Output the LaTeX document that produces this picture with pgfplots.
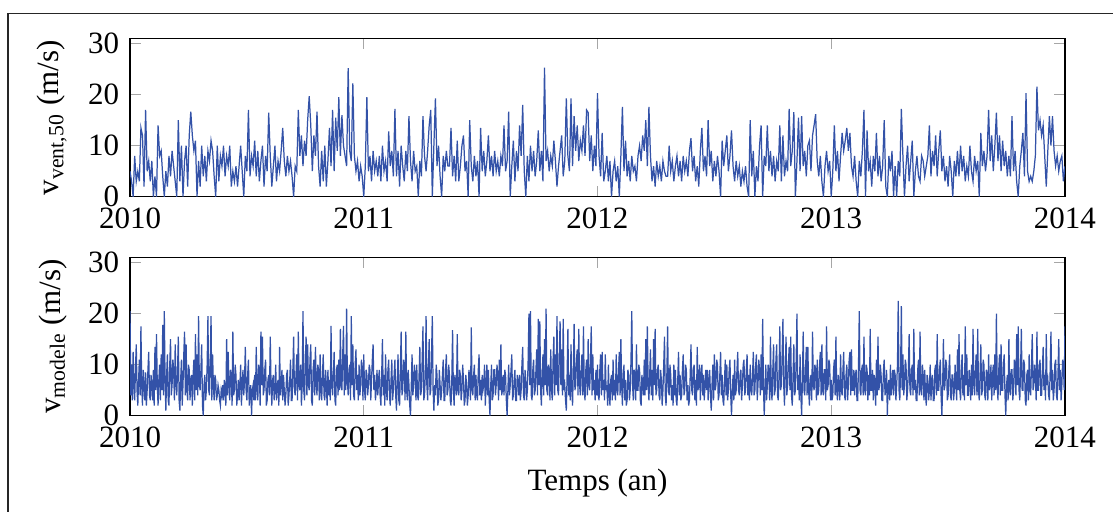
\documentclass[border=0pt]{standalone}
\usepackage{fontspec}
\setmainfont{Liberation Serif}
\usepackage{pgfplots}
\pgfplotsset{compat=1.18}
\definecolor{serie}{RGB}{51,82,168}

% two stacked panels, values plotted against their index (index range = 4 years)
\pgfplotsset{panel/.style={
  scale only axis, width=301.6pt, height=51pt, anchor=south west,
  xmin=0, ymin=0, ymax=31,
  xticklabels={2010,2011,2012,2013,2014},
  ytick={0,10,20,30},
  /pgf/number format/assume math mode=true,
  tick style={black!35}, major tick length=3.5pt,
}}

\begin{document}
\begin{tikzpicture}
\useasboundingbox (0pt,0pt) rectangle (359.03pt,165.16pt);
\draw[black!85,line width=0.4pt] (2.58pt,-20pt) -- (2.58pt,160.8pt) -- (380pt,160.8pt);

\begin{axis}[panel, at={(41.94pt,101.7pt)}, xmax=600, xtick={0,150,300,450,600},
  ylabel={v\textsubscript{vent,50} (m/s)}]
\addplot[color=serie, mark=none, line width=0.4pt] table[row sep=\\, header=false, x expr=\coordindex, y index=0] {
5\\3\\0\\8\\3\\5\\3\\13.5\\12\\2\\
17\\5\\7\\3\\7\\0\\4\\0\\14\\8\\
9\\4\\0\\5\\2\\8\\4\\9\\6\\3\\
0\\15\\3\\10\\0\\7\\10\\2\\12\\16.7\\
12\\9\\11\\0\\7\\2\\10\\4\\8\\3\\
9\\7\\11\\9\\4\\0\\10\\3\\8\\6\\
10\\4\\8\\6\\10\\2\\5\\3\\6\\2\\
6\\10\\5\\0\\8\\5\\17\\4\\8\\6\\
11\\4\\9\\3\\7\\10\\2\\8\\5\\16.5\\
8\\2\\6\\10\\3\\7\\5\\9\\13.5\\7\\
4\\8\\5\\7\\4\\0\\6\\5\\17\\8\\
12\\6\\11\\8\\15\\19.7\\14\\5\\12\\8\\
16.7\\6\\2\\9\\3\\10\\2\\7\\13.5\\6\\
17\\5\\15.5\\9\\19.5\\8\\16\\10\\8\\6\\
25.2\\9\\7\\22.2\\8\\5\\7\\3\\6\\4\\
0\\6\\19.5\\5\\8\\3\\9\\5\\7\\4\\
8\\3\\10\\5\\7\\3\\12.8\\6\\9\\4\\
17.2\\4\\9\\2\\10\\6\\3\\9\\5\\15.8\\
7\\3\\9\\5\\6\\0\\7\\4\\15.8\\8\\
5\\9\\14\\17\\0\\10\\19.3\\6\\10\\4\\
0\\8\\5\\9\\6\\6\\13.5\\4\\8\\3\\
11\\3\\6\\10\\12\\5\\7\\0\\15\\6\\
3\\8\\4\\7\\0\\13.5\\5\\9\\4\\7\\
12\\5\\8\\4\\9\\5\\7\\4\\8\\6\\
14\\5\\7\\16.7\\0\\6\\11\\3\\9\\5\\
14\\8\\18\\5\\0\\8\\3\\10\\5\\9\\
4\\7\\13\\5\\9\\3\\25.3\\7\\9\\5\\
8\\6\\11\\7\\2\\6\\9\\12\\4\\7\\
19.3\\8\\5\\19.3\\6\\15.8\\9\\14\\7\\11\\
9\\14\\8\\17\\16.5\\7\\12\\5\\10\\6\\
20.3\\8\\4\\12.5\\3\\5\\8\\3\\7\\0\\
5\\7\\3\\6\\0\\8\\17.6\\5\\11\\4\\
7\\3\\8\\5\\6\\3\\8\\10\\7\\12\\
9\\15\\6\\17.6\\8\\3\\6\\2\\7\\4\\
6\\3\\7\\5\\4\\4\\10\\5\\7\\3\\
6\\8\\4\\7\\3\\8\\5\\7\\4\\9\\
11.5\\5\\8\\3\\6\\2\\9\\13.5\\5\\8\\
4\\15\\6\\9\\3\\7\\4\\8\\5\\0\\
11\\6\\9\\12\\5\\8\\13\\6\\3\\7\\
4\\6\\2\\5\\3\\6\\2\\0\\15\\4\\
9\\0\\6\\3\\10\\14\\0\\8\\6\\14\\
5\\9\\4\\8\\3\\7\\5\\14\\3\\12\\
4\\7\\5\\17.2\\6\\9\\16.6\\0\\7\\15.5\\
5\\15.8\\6\\9\\4\\10\\11\\5\\12\\14\\
16.2\\7\\4\\8\\3\\0\\6\\9\\5\\7\\
0\\5\\14\\5\\9\\3\\8\\12.5\\9\\11\\
13.5\\9\\12.5\\6\\4\\8\\3\\0\\7\\4\\
9\\17\\0\\13\\5\\7\\2\\8\\5\\12.5\\
4\\8\\3\\6\\15\\2\\0\\8\\5\\9\\
0\\6\\0\\7\\4\\17.2\\8\\0\\6\\10\\
3\\7\\11\\0\\5\\8\\4\\3\\8\\7\\
4\\6\\8\\14\\4\\9\\6\\12\\4\\9\\
13\\5\\8\\3\\6\\2\\8\\5\\0\\7\\
4\\9\\4\\10\\5\\8\\3\\6\\4\\10\\
5\\3\\8\\5\\7\\0\\12.5\\6\\9\\5\\
8\\17\\7\\12\\5\\10\\16.5\\7\\12\\5\\
11\\6\\9\\4\\8\\4\\15.8\\5\\9\\3\\
0\\6\\9\\12.5\\4\\20.3\\5\\3\\4\\3\\
5\\8\\21.6\\13\\15\\12\\14\\8\\2\\9\\
15.8\\10\\15.8\\9\\6\\8\\5\\7\\8\\3\\
6\\
};
\end{axis}

\begin{axis}[panel, at={(41.94pt,31.06pt)}, xmax=1200, xtick={0,300,600,900,1200},
  ylabel={v\textsubscript{modele} (m/s)}, xlabel={Temps (an)}]
\addplot[color=serie, mark=none, line width=0.4pt] table[row sep=\\, header=false, x expr=\coordindex, y index=0] {
20.5\\4\\10\\3\\12.5\\6\\3\\9\\14\\5\\2\\7\\11\\4\\17.5\\6\\2\\9\\6\\3\\
8.5\\2\\5\\9\\12.5\\4\\3\\8\\6\\3\\9\\2\\13.5\\5\\16\\6\\2\\7\\10\\3\\
12\\5\\17.8\\4\\20.5\\7\\1\\8\\12\\3\\2\\10\\15\\4\\6\\11\\9\\3\\14\\6\\
4\\9\\15.5\\3\\1\\7\\11\\2\\6\\12\\16.5\\4\\14\\5\\3\\10\\9\\3\\7\\8\\
2\\8\\11\\3\\16\\5\\12\\4\\19.5\\6\\5\\9\\14\\2\\0\\6\\8\\3\\5\\10\\
19.5\\5\\4\\11\\19.5\\3\\12\\6\\3\\8\\7\\3\\4\\6\\5\\3\\2\\5\\4\\6\\
3\\7\\5\\2\\15\\4\\12.5\\6\\3\\9\\8\\2\\16.5\\4\\5\\10\\8\\2\\4\\7\\
3\\6\\10\\2\\6\\9\\4\\7\\13.5\\5\\3\\8\\11\\2\\4\\6\\0\\5\\6\\3\\
8\\3\\13.5\\5\\3\\10\\9\\2\\16.5\\6\\15.5\\4\\5\\9\\11\\2\\3\\7\\8\\4\\
15.5\\6\\2\\7\\8\\3\\5\\10\\3\\6\\7\\2\\13.5\\4\\6\\9\\3\\8\\5\\2\\
4\\8\\9\\2\\4\\7\\11\\3\\3\\9\\15.5\\5\\4\\8\\12\\3\\16.5\\6\\5\\10\\
2\\6\\20.5\\5\\3\\10\\15.5\\4\\14\\6\\5\\11\\14\\3\\2\\9\\11\\4\\13.5\\6\\
4\\10\\9\\3\\12\\5\\3\\8\\12\\4\\3\\9\\6\\2\\9\\4\\7\\3\\17.6\\6\\
4\\8\\12.5\\3\\2\\9\\10\\4\\11\\5\\17\\6\\5\\12\\17.6\\4\\12\\5\\21\\7\\
4\\9\\10\\3\\19.5\\6\\14\\4\\3\\10\\13\\5\\8\\3\\10\\4\\6\\11\\9\\3\\
12\\5\\3\\9\\8\\4\\6\\10\\9\\3\\7\\11\\14\\5\\8\\3\\5\\9\\4\\7\\
9\\4\\2\\8\\15\\4\\8\\2\\12\\5\\3\\9\\11\\4\\2\\7\\11\\3\\5\\8\\
11\\4\\1\\7\\12\\3\\2\\9\\16.5\\4\\5\\11\\10\\3\\16.5\\5\\3\\9\\6\\2\\
0\\6\\12\\4\\6\\10\\8\\3\\10\\4\\3\\8\\13.5\\4\\5\\11\\17.5\\3\\4\\8\\
19.5\\6\\3\\10\\15\\4\\5\\12\\19.5\\5\\1\\6\\4\\10\\8\\2\\3\\9\\6\\3\\
5\\8\\11\\3\\3\\9\\12\\4\\5\\10\\8\\3\\2\\7\\16.8\\5\\2\\8\\6\\4\\
16\\5\\4\\9\\8\\3\\5\\10\\7\\2\\3\\8\\6\\2\\4\\9\\7\\3\\17.3\\5\\
4\\8\\10\\3\\8\\4\\3\\9\\12\\4\\7\\3\\8\\5\\6\\10\\2\\6\\10\\4\\
9\\3\\0\\6\\10\\3\\4\\9\\9\\4\\6\\10\\8\\3\\11\\5\\14\\4\\5\\8\\
4\\9\\8\\3\\0\\5\\10\\4\\6\\9\\12\\3\\4\\7\\9\\3\\3\\8\\7\\4\\
8\\3\\5\\10\\13.5\\4\\3\\9\\7\\3\\5\\11\\20\\6\\20.5\\4\\3\\9\\11\\4\\
5\\9\\13\\4\\19\\6\\18.5\\5\\2\\8\\12\\4\\15\\6\\21\\5\\4\\10\\9\\3\\
13\\5\\3\\11\\15.5\\4\\12\\6\\19.5\\5\\4\\12\\18.5\\6\\13\\4\\19\\5\\6\\3\\
1\\8\\17\\4\\8\\3\\14\\5\\2\\9\\18\\5\\6\\11\\13\\4\\17\\6\\4\\9\\
12\\4\\17.5\\5\\3\\9\\11\\4\\15\\6\\5\\11\\17.5\\4\\12\\5\\6\\3\\9\\4\\
10\\4\\3\\9\\12\\4\\12.5\\5\\7\\3\\12\\5\\6\\2\\10\\4\\2\\7\\8\\3\\
11\\4\\7\\3\\12\\5\\4\\9\\12.5\\4\\15\\6\\2\\8\\10\\3\\7\\2\\3\\9\\
8\\3\\5\\11\\20.5\\6\\3\\9\\8\\3\\14\\5\\5\\10\\9\\3\\2\\8\\6\\4\\
11\\4\\15\\5\\17.5\\6\\3\\8\\13\\4\\9\\3\\15\\6\\17\\4\\5\\9\\10\\4\\
3\\9\\7\\2\\5\\10\\15.5\\4\\2\\8\\17.5\\5\\4\\10\\8\\3\\6\\2\\10\\4\\
9\\3\\2\\7\\12.5\\4\\8\\3\\4\\9\\12\\4\\5\\10\\9\\3\\6\\2\\3\\8\\
14\\5\\4\\9\\10\\3\\7\\2\\13.5\\5\\6\\10\\3\\8\\10\\4\\8\\3\\6\\9\\
5\\9\\3\\7\\9\\4\\1\\6\\10\\3\\12\\5\\6\\11\\10\\3\\4\\8\\12.5\\4\\
8\\3\\2\\7\\11\\4\\10\\3\\5\\9\\11\\4\\0\\5\\8\\3\\11\\4\\5\\9\\
12.5\\5\\4\\8\\9\\3\\6\\10\\11\\4\\5\\9\\12\\4\\8\\3\\10\\5\\4\\8\\
12.5\\4\\5\\10\\12\\3\\6\\11\\9\\4\\12\\5\\19\\6\\0\\5\\10\\3\\6\\10\\
8\\3\\15.5\\5\\3\\9\\14\\4\\5\\11\\14\\4\\3\\8\\17.5\\5\\6\\12\\19\\6\\
2\\9\\15.5\\4\\6\\10\\13.5\\5\\15.5\\4\\2\\8\\14\\4\\5\\11\\20\\5\\8\\3\\
12\\4\\0\\7\\16.5\\5\\4\\9\\13.5\\4\\13.5\\5\\2\\7\\8\\3\\16.5\\6\\5\\10\\
9\\3\\11\\4\\5\\10\\12.5\\4\\14\\5\\4\\9\\9\\3\\17.5\\5\\6\\11\\10\\3\\
7\\3\\4\\9\\11\\4\\15.5\\5\\3\\8\\6\\3\\12\\5\\4\\9\\12.5\\4\\3\\8\\
10\\3\\6\\11\\12.5\\4\\13\\5\\5\\9\\4\\8\\9\\3\\3\\10\\20.5\\5\\4\\9\\
10\\4\\15.5\\5\\4\\10\\9\\3\\8\\4\\17\\5\\5\\9\\3\\8\\7\\2\\11\\4\\
15.5\\5\\6\\10\\8\\3\\3\\9\\11\\4\\5\\9\\0\\6\\7\\3\\10\\4\\6\\9\\
4\\9\\8\\3\\6\\10\\22.5\\5\\3\\9\\21.5\\5\\12\\4\\6\\11\\10\\3\\5\\9\\
16\\5\\4\\9\\10\\4\\17\\5\\7\\3\\3\\9\\11\\4\\16.5\\5\\4\\10\\8\\3\\
9\\4\\2\\8\\7\\3\\5\\10\\3\\7\\8\\3\\3\\9\\10\\4\\16\\5\\5\\9\\
11\\4\\0\\6\\15\\5\\6\\11\\10\\3\\4\\9\\12\\4\\3\\8\\8\\3\\5\\10\\
6\\3\\13\\5\\16\\5\\3\\9\\12\\4\\8\\3\\17.5\\6\\12\\4\\4\\9\\7\\3\\
10\\4\\17\\6\\4\\9\\12\\4\\17\\5\\3\\8\\14\\4\\5\\11\\10\\4\\3\\9\\
8\\3\\12\\5\\6\\10\\3\\8\\10\\4\\12\\5\\20\\6\\3\\9\\12\\4\\14\\5\\
5\\10\\12\\4\\0\\6\\8\\3\\15\\5\\4\\9\\9\\3\\5\\11\\10\\4\\16\\6\\
17.5\\5\\3\\9\\17\\5\\5\\11\\10\\3\\2\\8\\9\\3\\12\\5\\4\\10\\16\\5\\
6\\10\\8\\3\\16.5\\5\\5\\10\\11\\4\\4\\9\\13.5\\5\\8\\3\\16\\6\\7\\4\\
3\\9\\16.5\\5\\9\\3\\5\\10\\11\\4\\3\\8\\15\\5\\9\\3\\6\\11\\10\\5\\
17.5\\
};
\end{axis}
\end{tikzpicture}
\end{document}
